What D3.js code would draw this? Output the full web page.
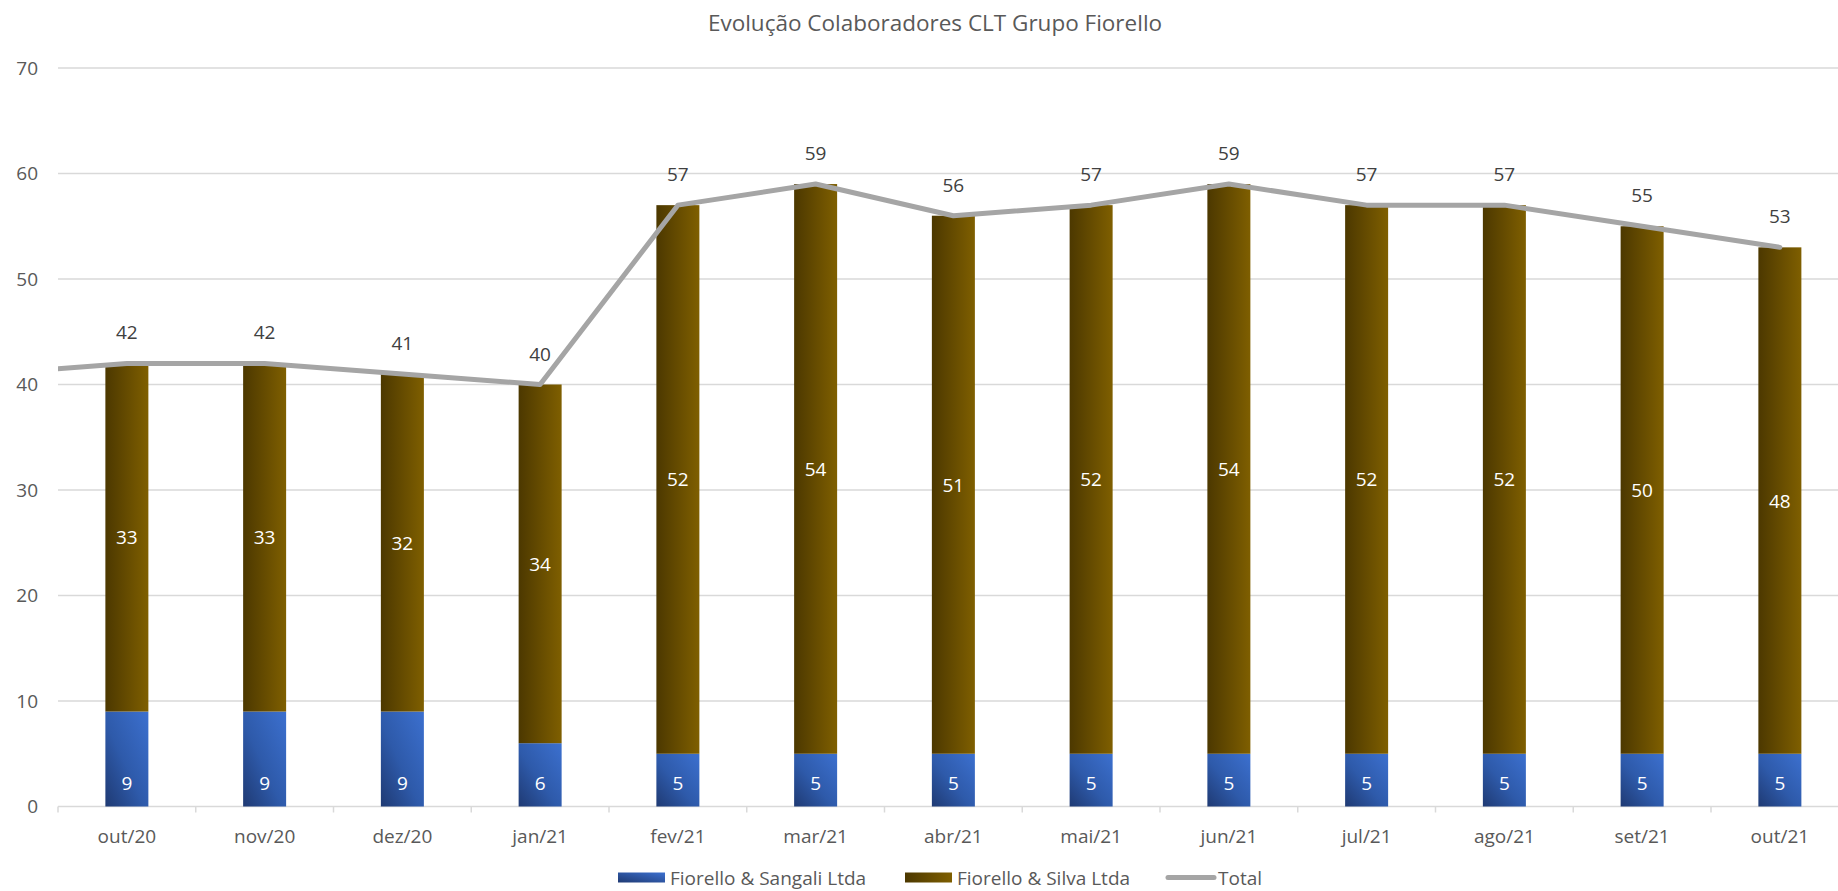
<!DOCTYPE html>
<html>
<head>
<meta charset="utf-8">
<script src="https://cdn.jsdelivr.net/npm/d3@7"></script>
<style>
  html, body { margin: 0; padding: 0; background: #fff; }
  svg { display: block; font-family: "Open Sans", "Noto Sans", sans-serif; }
</style>
</head>
<body>
<svg id="chart" width="1838" height="891"></svg>
<script>
// ---- data ----
const categories = ["out/20","nov/20","dez/20","jan/21","fev/21","mar/21","abr/21","mai/21","jun/21","jul/21","ago/21","set/21","out/21"];
const sangali = [9, 9, 9, 6, 5, 5, 5, 5, 5, 5, 5, 5, 5];
const silva   = [33, 33, 32, 34, 52, 54, 51, 52, 54, 52, 52, 50, 48];
const total   = [42, 42, 41, 40, 57, 59, 56, 57, 59, 57, 57, 55, 53];
const totalBefore = 41; // value of the (cropped) previous month, only visible as the line entering from the left
const yTicks = [0, 10, 20, 30, 40, 50, 60, 70];
const seriesNames = ["Fiorello & Sangali Ltda", "Fiorello & Silva Ltda", "Total"];
const title = "Evolução Colaboradores CLT Grupo Fiorello";

// ---- layout ----
const W = 1838, H = 891;
const plotLeft = 58, step = 137.75, plotTop = 68, plotBottom = 806.5;
const plotRight = plotLeft + step * categories.length;
const FS = 19;
const svg = d3.select("#chart");

const x = d3.scaleBand().domain(categories).range([plotLeft, plotRight])
  .paddingInner(1 - 43 / step).paddingOuter((1 - 43 / step) / 2);
const y = d3.scaleLinear().domain([0, 70]).range([plotBottom, plotTop]);

// gradients
const defs = svg.append("defs");
const gBlue = defs.append("linearGradient").attr("id", "gBlue")
  .attr("x1", "0%").attr("y1", "100%").attr("x2", "100%").attr("y2", "0%");
gBlue.append("stop").attr("offset", "0%").attr("stop-color", "#1f3a73");
gBlue.append("stop").attr("offset", "45%").attr("stop-color", "#2e5aaa");
gBlue.append("stop").attr("offset", "100%").attr("stop-color", "#3c70cf");
const gBrown = defs.append("linearGradient").attr("id", "gBrown")
  .attr("x1", "0%").attr("y1", "0%").attr("x2", "100%").attr("y2", "0%");
gBrown.append("stop").attr("offset", "0%").attr("stop-color", "#4c3800");
gBrown.append("stop").attr("offset", "100%").attr("stop-color", "#7f5f00");
const gBlueL = defs.append("linearGradient").attr("id", "gBlueL")
  .attr("x1", "0%").attr("y1", "100%").attr("x2", "100%").attr("y2", "0%");
gBlueL.append("stop").attr("offset", "0%").attr("stop-color", "#1f3a73");
gBlueL.append("stop").attr("offset", "100%").attr("stop-color", "#3c70cf");

defs.append("clipPath").attr("id", "plotClip").append("rect")
  .attr("x", plotLeft).attr("y", 0).attr("width", W - plotLeft).attr("height", H);

// title
svg.append("text").attr("x", 935).attr("y", 22)
  .attr("text-anchor", "middle").attr("dominant-baseline", "central")
  .attr("font-size", 22.5).attr("fill", "#595959").text(title);

// gridlines
svg.append("g").selectAll("line").data(yTicks.filter(d => d > 0)).join("line")
  .attr("x1", plotLeft).attr("x2", W)
  .attr("y1", d => y(d)).attr("y2", d => y(d))
  .attr("stroke", "#d9d9d9").attr("stroke-width", 1.5);

// y axis labels
const yAxis = d3.axisLeft(y).tickValues(yTicks).tickSize(0).tickPadding(0);
const gy = svg.append("g").attr("transform", `translate(${plotLeft - 20},0)`).call(yAxis);
gy.select(".domain").remove();
gy.selectAll("text").attr("font-size", FS).attr("fill", "#595959")
  .attr("font-family", "'Open Sans', sans-serif");

// x axis
const xAxis = d3.axisBottom(x).tickSize(0).tickPadding(0);
const gx = svg.append("g").attr("transform", `translate(0,${plotBottom})`).call(xAxis);
gx.select(".domain").remove();
gx.selectAll("text").attr("font-size", FS).attr("fill", "#595959")
  .attr("font-family", "'Open Sans', sans-serif").attr("dy", 0).attr("y", 29)
  .attr("dominant-baseline", "central");
svg.append("line").attr("x1", plotLeft).attr("x2", W)
  .attr("y1", plotBottom).attr("y2", plotBottom)
  .attr("stroke", "#d9d9d9").attr("stroke-width", 1.5);
const boundaries = d3.range(categories.length + 1).map(i => plotLeft + i * step);
svg.append("g").selectAll("line").data(boundaries).join("line")
  .attr("x1", d => d).attr("x2", d => d)
  .attr("y1", plotBottom).attr("y2", plotBottom + 6)
  .attr("stroke", "#d9d9d9").attr("stroke-width", 1.5);

// stacked bars
const rows = categories.map((c, i) => ({ cat: c, sangali: sangali[i], silva: silva[i], total: total[i] }));
const stack = d3.stack().keys(["sangali", "silva"])(rows);
const fills = { sangali: "url(#gBlue)", silva: "url(#gBrown)" };
stack.forEach(layer => {
  svg.append("g").selectAll("rect").data(layer).join("rect")
    .attr("x", d => x(d.data.cat)).attr("width", x.bandwidth())
    .attr("y", d => y(d[1])).attr("height", d => y(d[0]) - y(d[1]))
    .attr("fill", fills[layer.key]);
});

// segment labels
svg.append("g").selectAll("text").data(stack[0]).join("text")
  .attr("x", d => x(d.data.cat) + x.bandwidth() / 2)
  .attr("y", d => y(d[0]) - 24)
  .attr("text-anchor", "middle").attr("dominant-baseline", "central")
  .attr("font-size", FS).attr("fill", "#ffffff").text(d => d.data.sangali);
svg.append("g").selectAll("text").data(stack[1]).join("text")
  .attr("x", d => x(d.data.cat) + x.bandwidth() / 2)
  .attr("y", d => (y(d[0]) + y(d[1])) / 2)
  .attr("text-anchor", "middle").attr("dominant-baseline", "central")
  .attr("font-size", FS).attr("fill", "#ffffff").text(d => d.data.silva);

// total line
const cx = c => x(c) + x.bandwidth() / 2;
const linePts = [[cx(categories[0]) - step, y(totalBefore)]]
  .concat(categories.map((c, i) => [cx(c), y(total[i])]));
svg.append("path").attr("d", d3.line()(linePts))
  .attr("clip-path", "url(#plotClip)")
  .attr("fill", "none").attr("stroke", "#a5a5a5").attr("stroke-width", 5)
  .attr("stroke-linejoin", "round").attr("stroke-linecap", "round");

svg.append("g").selectAll("text").data(rows).join("text")
  .attr("x", d => cx(d.cat)).attr("y", d => y(d.total) - 31)
  .attr("text-anchor", "middle").attr("dominant-baseline", "central")
  .attr("font-size", FS).attr("fill", "#404040").text(d => d.total);

// legend
const legY = 877.5;
const leg = svg.append("g");
const items = [
  { name: seriesNames[0], type: "rect", fill: "url(#gBlueL)", sx: 618 },
  { name: seriesNames[1], type: "rect", fill: "url(#gBrown)", sx: 905 },
  { name: seriesNames[2], type: "line", sx: 1166 }
];
items.forEach(it => {
  if (it.type === "rect") {
    leg.append("rect").attr("x", it.sx).attr("y", legY - 5).attr("width", 47).attr("height", 10)
      .attr("fill", it.fill);
  } else {
    leg.append("line").attr("x1", it.sx + 2).attr("x2", it.sx + 48)
      .attr("y1", legY).attr("y2", legY)
      .attr("stroke", "#a5a5a5").attr("stroke-width", 5).attr("stroke-linecap", "round");
  }
  leg.append("text").attr("x", it.sx + 52).attr("y", legY)
    .attr("dominant-baseline", "central").attr("font-size", FS)
    .attr("fill", "#595959").text(it.name);
});
</script>
</body>
</html>
